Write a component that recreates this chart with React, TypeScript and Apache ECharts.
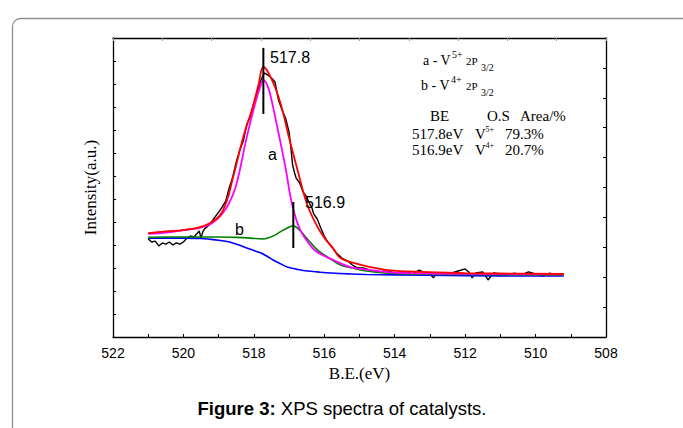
import React, { useEffect, useRef } from "react";
import * as echarts from "echarts";

// Raw spectrum (binding energy in eV, intensity in a.u.)
const rawBE = [521.0,520.9,520.8,520.7,520.6,520.5,520.4,520.3,520.2,520.1,520.0,519.9,519.8,519.7,519.6,519.55,519.5,519.45,519.4,519.3,519.2,519.1,519.0,518.9,518.8,518.7,518.6,518.5,518.4,518.3,518.2,518.1,518.0,517.9,517.8,517.7,517.6,517.5,517.4,517.3,517.2,517.1,517.0,516.95,516.9,516.85,516.8,516.7,516.6,516.5,516.4,516.35,516.3,516.2,516.1,516.0,515.9,515.8,515.7,515.6,515.5,515.4,515.3,515.2,515.1,515.0,514.9,514.8,514.7,514.6,514.5,514.4,514.3,514.2,514.1,514.0,513.8,513.6,513.5,513.3,513.2,513.0,512.9,512.8,512.6,512.4,512.2,512.0,511.9,511.8,511.7,511.5,511.35,511.2,511.0,510.8,510.6,510.4,510.2,510.0,509.8,509.6,509.4,509.2];
const rawI = [4.26,4.13,4.17,3.96,4.09,4.04,4.13,4.00,4.09,4.04,4.13,4.30,4.39,4.35,4.52,4.61,4.30,4.57,4.70,4.83,5.00,5.22,5.43,5.65,5.91,6.48,6.96,7.61,8.13,8.52,9.26,9.57,10.17,10.65,11.17,11.48,11.39,11.26,11.09,10.30,9.87,9.52,8.91,8.26,7.48,7.17,6.91,6.70,6.30,6.09,5.74,5.61,5.35,5.13,4.74,4.39,4.13,3.96,3.74,3.57,3.43,3.35,3.26,3.13,3.04,3.00,3.00,2.96,2.91,2.87,2.87,2.83,2.87,2.83,2.83,2.78,2.78,2.83,2.74,2.91,2.83,2.74,2.57,2.78,2.74,2.78,2.87,2.96,2.83,2.57,2.78,2.83,2.48,2.78,2.74,2.70,2.78,2.70,2.83,2.74,2.65,2.78,2.70,2.74];

// Shirley background (blue)
const bgBE = [521,520.5,520,519.5,519.25,519,518.8,518.6,518.4,518.2,518.0,517.8,517.6,517.45,517.25,517.05,516.8,516.6,516.2,515.8,515.25,514.8,514,512,510,509.2];
const bgI = [4.30,4.30,4.30,4.28,4.25,4.21,4.16,4.09,3.99,3.87,3.76,3.65,3.49,3.35,3.19,3.04,2.95,2.89,2.83,2.78,2.74,2.72,2.70,2.67,2.65,2.65];

// b - V4+ component (green)
const v4BE = [521,520.5,520,519.5,519,518.5,518.1,517.75,517.6,517.4,517.25,517.05,516.88,516.68,516.48,516.19,515.91,515.54,515.2,514.8,514.29,513.5,512,509.2];
const v4I = [4.33,4.35,4.35,4.35,4.35,4.33,4.30,4.26,4.30,4.43,4.57,4.74,4.83,4.61,4.26,3.78,3.48,3.13,3.00,2.87,2.78,2.74,2.72,2.70];

// a - V5+ component (magenta)
const v5BE = [521,520.5,520,519.5,519.2,518.9,518.7,518.5,518.2,517.96,517.82,517.73,517.59,517.45,517.3,517.1,516.91,516.68,516.31,516.11,515.74,515.26,514.69,514,513,509.2];
const v5I = [4.48,4.54,4.65,4.76,4.93,5.35,5.83,6.61,8.70,10.17,10.87,11.17,10.83,9.96,8.87,7.35,5.74,4.65,3.83,3.61,3.35,3.04,2.91,2.80,2.76,2.72];

// Envelope fit (red)
const fitBE = [521,520.5,520,519.61,519.24,518.96,518.76,518.61,518.5,518.3,518.04,517.87,517.73,517.6,517.39,517.19,517.02,516.76,516.48,516.19,515.99,515.74,515.54,515.17,514.69,514.2,513.26,512.01,511.01,509.2];
const fitI = [4.52,4.59,4.65,4.74,4.96,5.30,5.96,6.83,7.48,8.70,9.96,10.96,11.74,11.52,10.83,9.87,8.78,7.26,5.74,4.78,4.30,3.83,3.43,3.22,3.04,2.91,2.83,2.78,2.76,2.74];

// Peak position markers
const markBE = [517.73, 516.88];
const markTop = [12.57, 5.87];
const markBottom = [9.7, 3.87];

// Axis ticks
const xTicks = { min: 508, max: 522, interval: 2 };

const zip = (xs: number[], ys: number[]) => xs.map((x, i) => [x, ys[i]]);

const SANS = '"Liberation Sans", Arial, sans-serif';
const SERIF = '"Liberation Serif", "Times New Roman", serif';

function txt(text: string, x: number, y: number, size: number, family: string, extra: any = {}) {
  return {
    type: "text",
    x,
    y,
    z: 100,
    style: {
      text,
      fontSize: size,
      fontFamily: family,
      fill: "#000",
      textAlign: "left",
      textVerticalAlign: "middle",
      verticalAlign: "middle",
      ...extra,
    },
  };
}

export default function App() {
  const ref = useRef<HTMLDivElement>(null);
  useEffect(() => {
    const chart = echarts.init(ref.current!, null, { renderer: "svg" });
    const lineSeries = (data: number[][], color: string, width: number, smooth: boolean | number) => ({
      type: "line",
      data,
      xAxisIndex: 0,
      yAxisIndex: 0,
      symbol: "none",
      showSymbol: false,
      smooth,
      lineStyle: { color, width },
      silent: true,
    });
    const option: any = {
      animation: false,
      backgroundColor: "#fff",
      grid: { left: 113, right: 77, top: 38, bottom: 91 },
      xAxis: [
        {
          type: "value",
          min: xTicks.min,
          max: xTicks.max,
          interval: xTicks.interval,
          inverse: true,
          position: "bottom",
          axisLine: { show: true, onZero: false, lineStyle: { color: "#000", width: 1.3 } },
          axisTick: { show: true, inside: true, length: 3, lineStyle: { color: "#000", width: 1 } },
          minorTick: { show: true, splitNumber: 2, length: 3, lineStyle: { color: "#000", width: 1 } },
          splitLine: { show: false },
          axisLabel: { color: "#000", fontFamily: SANS, fontSize: 14, margin: 9 },
          name: "B.E.(eV)",
          nameLocation: "middle",
          nameGap: 28,
          nameTextStyle: { fontFamily: SERIF, fontSize: 17, color: "#000" },
        },
        {
          type: "value",
          min: 0,
          max: 10,
          interval: 1,
          position: "top",
          axisLine: { show: true, onZero: false, lineStyle: { color: "#000", width: 1.3 } },
          axisTick: { show: true, inside: true, length: 3, lineStyle: { color: "#999", width: 1 } },
          axisLabel: { show: false },
          splitLine: { show: false },
        },
      ],
      yAxis: [
        {
          type: "value",
          min: 0,
          max: 13,
          interval: 1,
          position: "left",
          axisLine: { show: true, onZero: false, lineStyle: { color: "#000", width: 1.3 } },
          axisTick: { show: true, inside: true, length: 3, lineStyle: { color: "#000", width: 1 } },
          axisLabel: { show: false },
          splitLine: { show: false },
          name: "Intensity(a.u.)",
          nameLocation: "middle",
          nameGap: 14,
          nameTextStyle: { fontFamily: SERIF, fontSize: 17, color: "#000" },
        },
        {
          type: "value",
          min: 0,
          max: 10,
          interval: 1,
          position: "right",
          axisLine: { show: true, onZero: false, lineStyle: { color: "#000", width: 1.3 } },
          axisTick: { show: true, inside: true, length: 3, lineStyle: { color: "#000", width: 1 } },
          axisLabel: { show: false },
          splitLine: { show: false },
        },
      ],
      series: [
        lineSeries(zip(rawBE, rawI), "#000", 1.4, false),
        lineSeries(zip(bgBE, bgI), "#0000ff", 1.6, 0.4),
        lineSeries(zip(v4BE, v4I), "#008000", 1.6, 0.4),
        lineSeries(zip(v5BE, v5I), "#ff00ff", 1.8, 0.4),
        lineSeries(zip(fitBE, fitI), "#ff0000", 1.8, 0.4),
        ...markBE.map((be, i) => ({
          ...lineSeries([[be, markTop[i]], [be, markBottom[i]]], "#000", 2, false),
          clip: false,
        })),
      ],
      graphic: [
        {
          type: "rect",
          z: 0,
          shape: { x: 12.5, y: 18.5, width: 720, height: 460, r: 8 },
          style: { fill: "none", stroke: "#8f8f8f", lineWidth: 1.3 },
        },
        txt("517.8", 270, 57.5, 16, SANS),
        txt("516.9", 305, 202, 16, SANS),
        txt("a", 268, 154.5, 16, SANS),
        txt("b", 235, 229.5, 16, SANS),
        // legend block
        txt("a - V", 423, 60, 14, SERIF),
        txt("5+", 452, 54, 10, SERIF),
        txt("2P", 466, 61, 11, SERIF),
        txt("3/2", 481, 67, 10, SERIF),
        txt("b - V", 421, 85, 14, SERIF),
        txt("4+", 451, 79, 10, SERIF),
        txt("2P", 466, 86, 11, SERIF),
        txt("3/2", 481, 92, 10, SERIF),
        txt("BE", 430, 116, 15, SERIF),
        txt("O.S", 487, 116, 15, SERIF),
        txt("Area/%", 520, 116, 15, SERIF),
        txt("517.8eV", 412, 134, 15, SERIF),
        txt("V", 475, 134, 15, SERIF),
        txt("5+", 485.5, 129, 8, SERIF),
        txt("79.3%", 505, 134, 15, SERIF),
        txt("516.9eV", 412, 150, 15, SERIF),
        txt("V", 475, 150, 15, SERIF),
        txt("4+", 485.5, 145, 8, SERIF),
        txt("20.7%", 505, 150, 15, SERIF),
        {
          type: "text",
          x: 342,
          y: 408,
          z: 100,
          style: {
            text: "{b|Figure 3:} XPS spectra of catalysts.",
            fontSize: 18.5,
            fontFamily: SANS,
            fill: "#000",
            textAlign: "center",
            textVerticalAlign: "middle",
            align: "center",
            verticalAlign: "middle",
            rich: {
              b: {
                fontSize: 18.5,
                fontWeight: "bold",
                fontFamily: SANS,
                fill: "#000",
              },
            },
          },
        },
      ],
    };
    chart.setOption(option);
    return () => chart.dispose();
  }, []);
  return (
    <div
      ref={ref}
      style={{ position: "absolute", left: 0, top: 0, width: 683, height: 428, background: "#fff" }}
    />
  );
}
